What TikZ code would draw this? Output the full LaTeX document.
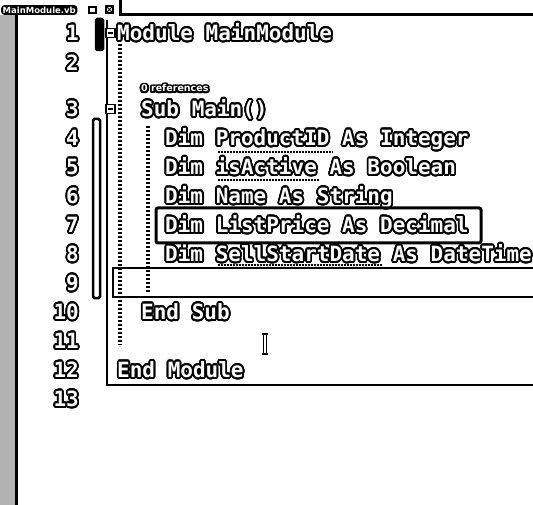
\documentclass[tikz,border=0pt]{standalone}
\usepackage{fontspec}
\usepackage{contour}
\newfontfamily\codefont{DejaVu Sans Mono}
\newfontfamily\uifont{DejaVu Sans}
\contourlength{1.8pt}
\contournumber{24}
\newcommand{\ol}[1]{\contour{black}{#1}}

\begin{document}
\begin{tikzpicture}[x=1pt,y=-1pt,
	code/.style={anchor=base west,inner sep=0pt,text=white,font=\codefont\bfseries\fontsize{21}{23}\selectfont},
	lnum/.style={anchor=base east,inner sep=0pt,text=white,font=\codefont\bfseries\fontsize{21}{23}\selectfont},
	squiggle/.style={line width=1.6pt,dash pattern=on 1.5pt off 1.5pt},
	guide/.style={line width=4pt,dash pattern=on 2pt off 2pt}]
	\useasboundingbox (0,0) rectangle (533,505);
	% tab bar
	\node[anchor=west,fill=black,rounded corners=3pt,inner sep=1.5pt,text=white,font=\uifont\bfseries\fontsize{8.5}{10}\selectfont](tab) at (1,10) {MainModule.vb};
	\draw[line width=1.5pt] (89,7) rectangle (96,13) (106,6) rectangle (113,13);
	\draw[line width=1pt] (107,7) -- (112,12) (112,7) -- (107,12);
	\draw[line width=3pt] (120,0) -- (120,15) -- (533,15);
	% left strip
	\fill[black!30] (0,15) rectangle (15,505);
	\draw[line width=2.5pt] (16.5,15) -- (16.5,505);
	% line numbers
	\foreach \n/\y in {1/33,2/63,3/109,4/138,5/167,6/196,7/225,8/254,9/283,10/312,11/341,12/370,13/399}
		\node[lnum](ln\n) at (79,\y+7.5) {\ol{\n}};
	% margins and frames
	\draw[line width=2.5pt,rounded corners=1.5pt,fill=black] (96,19) rectangle (103,50);
	\draw[line width=2.5pt,rounded corners=1.5pt] (93,119) rectangle (100,298);
	\draw[line width=2pt] (107,20) -- (107,385) -- (540,385);
	\draw[line width=2pt] (113,268) rectangle (540,297);
	\draw[guide] (120,44) -- (120,345);
	\draw[guide] (148,126) -- (148,292);
	\foreach \y in {33,109}{
		\draw[line width=1.2pt,fill=white] (106,\y-4.5) rectangle (115,\y+4.5);
		\draw[line width=1.2pt] (108,\y) -- (113,\y);
	}
	% code text
	\node[code](mod) at (117,40.5) {\ol{Module} \ol{MainModule}};
	\node[anchor=base west,inner sep=0pt,text=white,font=\uifont\bfseries\fontsize{9.5}{10}\selectfont](refs) at (141,92) {\ol{0 references}};
	\node[code](sub) at (141,116.5) {\ol{Sub} \ol{Main()}};
	\node[code](l4) at (165,145.5) {\ol{Dim} \ol{ProductID} \ol{As} \ol{Integer}};
	\node[code](l5) at (165,174.5) {\ol{Dim} \ol{isActive} \ol{As} \ol{Boolean}};
	\node[code](l6) at (165,203.5) {\ol{Dim} \ol{Name} \ol{As} \ol{String}};
	\node[code](l7) at (165,232.5) {\ol{Dim} \ol{ListPrice} \ol{As} \ol{Decimal}};
	\node[code](l8) at (165,261.5) {\ol{Dim} \ol{SellStartDate} \ol{As} \ol{DateTime}};
	\node[code](endsub) at (141,319.5) {\ol{End} \ol{Sub}};
	\node[code](endmod) at (117,377.5) {\ol{End} \ol{Module}};
	% highlight of line 7
	\draw[line width=3pt,rounded corners=2pt] (156,208) rectangle (481,243);
	% squiggles
	\draw[squiggle] (218,152) -- (333,152);
	\draw[squiggle] (218,180) -- (320,180);
	\draw[squiggle] (218,265) -- (383,265);
	% text cursor
	\draw[line width=3.5pt] (265,334) -- (265,354);
	\draw[line width=1.5pt,white] (265,335) -- (265,353);
	\draw[line width=1.2pt] (262,334) -- (268,334) (262,354) -- (268,354);
\end{tikzpicture}
\end{document}
